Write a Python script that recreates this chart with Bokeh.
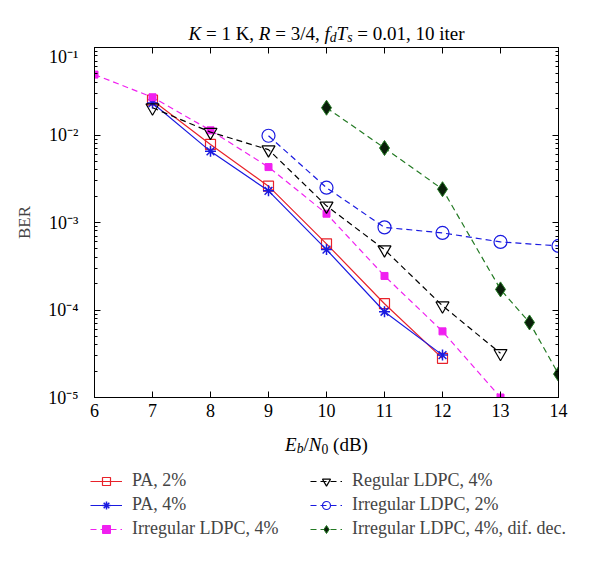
from bokeh.plotting import figure
from bokeh.layouts import column
from bokeh.models import (Range1d, FixedTicker, LinearAxis, LogAxis, Label,
                          Legend, LegendItem, CustomJSTickFormatter)
from bokeh.embed import file_html
from bokeh.resources import INLINE

# ---------------- data ----------------
x_pa = [7, 8, 9, 10, 11, 12]
ber_pa2 = [0.025, 0.0078, 0.0026, 0.00057, 0.000118, 2.8e-5]
ber_pa4 = [0.0232, 0.0065, 0.0023, 0.00049, 0.0000955, 3.05e-5]

x_irr4 = [6, 7, 8, 9, 10, 11, 12, 13]
ber_irr4 = [0.049, 0.027, 0.0113, 0.0043, 0.00126, 0.000245, 5.7e-5, 1.0e-5]

x_reg4 = [7, 8, 9, 10, 11, 12, 13]
ber_reg4 = [0.0205, 0.0108, 0.0068, 0.00155, 0.00049, 0.000112, 3.2e-5]

x_irr2 = [9, 10, 11, 12, 13, 14]
ber_irr2 = [0.0098, 0.0025, 0.00088, 0.00076, 0.0006, 0.00054]

x_dif = [10, 11, 12, 13, 13.5, 14]
ber_dif = [0.0205, 0.0071, 0.0024, 0.000172, 7.2e-5, 1.85e-5]

labels = ["PA, 2%", "PA, 4%", "Irregular LDPC, 4%",
          "Regular LDPC, 4%", "Irregular LDPC, 2%", "Irregular LDPC, 4%, dif. dec."]

x_ticks = [6, 7, 8, 9, 10, 11, 12, 13, 14]
y_ticks = [1e-5, 1e-4, 1e-3, 1e-2, 1e-1]

FONT = "Liberation Serif"
RED = "#e8222a"
BLUE = "#1a1ae0"
MAG = "#f020f0"
GREEN = "#237a23"
DASH = "6 4"
LW = 1.2

W = 600
HA, HM, HC = 46, 381, 135          # title strip, main plot, bottom strip
L, R, T, B = 94, 42, 1, 30

def strip(h):
    f = figure(width=W, height=h, output_backend="svg", toolbar_location=None,
               x_range=Range1d(0, 1), y_range=Range1d(0, 1),
               x_axis_location=None, y_axis_location=None, min_border=0)
    f.grid.visible = False
    f.outline_line_color = None
    f.background_fill_color = "white"
    f.border_fill_color = "white"
    return f

# ---------------- main plot ----------------
p = figure(width=W, height=HM, output_backend="svg", toolbar_location=None,
           x_range=Range1d(6, 14), y_range=Range1d(1e-5, 1e-1),
           y_axis_type="log", min_border_left=L, min_border_right=R,
           min_border_top=T, min_border_bottom=B)
p.grid.visible = False
p.outline_line_color = "black"
p.outline_line_width = 1
p.background_fill_color = "white"
p.border_fill_color = "white"

minor_y = [m * 10.0 ** e for e in range(-5, -1) for m in range(2, 10)]
xt = FixedTicker(ticks=x_ticks, minor_ticks=[])
yt = FixedTicker(ticks=y_ticks, minor_ticks=minor_y)

fmt = CustomJSTickFormatter(code="""
const sup = {'-':'\u207b','0':'\u2070','1':'\u00b9','2':'\u00b2','3':'\u00b3',
             '4':'\u2074','5':'\u2075','6':'\u2076','7':'\u2077','8':'\u2078','9':'\u2079'};
const e = Math.round(Math.log10(tick));
return '10' + String(e).split('').map(c => sup[c]).join('');
""")
blank = CustomJSTickFormatter(code="return '';")

def style_axis(ax):
    ax.axis_line_color = "black"
    ax.major_tick_in = 6
    ax.major_tick_out = 0
    ax.minor_tick_in = 3
    ax.minor_tick_out = 0
    ax.major_tick_line_color = "black"
    ax.minor_tick_line_color = "black"
    ax.major_label_text_font = FONT
    ax.major_label_text_font_size = "17px"
    ax.major_label_text_color = "black"

xa = p.xaxis[0]
xa.ticker = xt
style_axis(xa)
xa.major_label_text_font_size = "18px"
xa.major_label_standoff = 6

ya = p.yaxis[0]
ya.ticker = yt
ya.formatter = fmt
style_axis(ya)
ya.major_label_text_font_size = "18px"
ya.major_label_standoff = 16
ya.axis_label = "BER"
ya.axis_label_text_font = FONT
ya.axis_label_text_font_style = "normal"
ya.axis_label_text_font_size = "17px"
ya.axis_label_standoff = 11

top = LinearAxis(ticker=xt, formatter=blank)
style_axis(top)
top.major_label_text_font_size = "1px"
top.major_label_standoff = 0
p.add_layout(top, "above")
right = LogAxis(ticker=yt, formatter=blank)
style_axis(right)
right.major_label_text_font_size = "1px"
right.major_label_standoff = 0
p.add_layout(right, "right")

series = [
    (x_pa, ber_pa2, dict(line_color=RED), dict(marker="square", size=10, fill_alpha=0, line_color=RED, line_width=1.2)),
    (x_pa, ber_pa4, dict(line_color=BLUE), dict(marker="asterisk", size=11, line_color=BLUE, line_width=1.5)),
    (x_irr4, ber_irr4, dict(line_color=MAG, line_dash=DASH), dict(marker="square", size=7, fill_color=MAG, line_color=MAG)),
    (x_reg4, ber_reg4, dict(line_color="black", line_dash=DASH), dict(marker="inverted_triangle", size=13, fill_alpha=0, line_color="black", line_width=1.2)),
    (x_irr2, ber_irr2, dict(line_color=BLUE, line_dash=DASH), dict(marker="circle", size=13, fill_alpha=0, line_color=BLUE, line_width=1.2)),
    (x_dif, ber_dif, dict(line_color=GREEN, line_dash=DASH), dict(marker="diamond", size=15, fill_color="#0a1f0a", line_color=GREEN, line_width=1)),
]
for xs, ys, lkw, mkw in series:
    p.line(xs, ys, line_width=LW, **lkw)
    p.scatter(xs, ys, **mkw)

# ---------- rich text helper ----------
W_REG = {' ': 250, ',': 250, '.': 250, '/': 278, '=': 564, '(': 333, ')': 333,
         'K': 722, 'd': 500, 'B': 667, 'i': 278, 't': 278, 'e': 444, 'r': 333}
W_IT = {'K': 667, 'R': 611, 'f': 278, 'd': 500, 'T': 556, 's': 389,
        'E': 611, 'b': 500, 'N': 667, ' ': 250}

def rich(fig, pieces, cx, base_y, size):
    widths = []
    for t, it, sub in pieces:
        s = size * 0.72 if sub else size
        tab = W_IT if it else W_REG
        widths.append(sum(tab.get(c, 500) for c in t) / 1000.0 * s)
    x = cx - sum(widths) / 2.0
    for (t, it, sub), w in zip(pieces, widths):
        s = size * 0.72 if sub else size
        tab = W_IT if it else W_REG
        lead = len(t) - len(t.lstrip(' '))
        fig.add_layout(Label(x=x + lead * tab[' '] / 1000.0 * s,
                             y=base_y - (size * 0.22 if sub else 0),
                             x_units="screen", y_units="screen", text=t.strip(' '),
                             text_font=FONT,
                             text_font_style="italic" if it else "normal",
                             text_font_size=f"{s:.1f}px", text_color="black",
                             text_align="left", text_baseline="alphabetic"))
        x += w

fa = strip(HA)
fc = strip(HC)

# un-align the strip frames from the main frame if supported
OFF = 0
try:
    for f in (fa, fc, p):
        f.frame_align = False
except Exception:
    OFF = L

CX = (L + (W - R)) / 2.0 - OFF

# ---------------- title strip ----------------
rich(fa, [("K", True, False), (" = 1 K, ", False, False), ("R", True, False),
          (" = 3/4, ", False, False), ("f", True, False), ("d", True, True),
          ("T", True, False), ("s", True, True), (" = 0.01, 10 iter", False, False)],
     CX, 13, 19)

# ---------------- bottom strip: x label + legend ----------------
rich(fc, [("E", True, False), ("b", True, True), ("/", False, False),
          ("N", True, False), ("0", False, True), (" (dB)", False, False)],
     CX, HC - 17, 19)

rends = []
for xs, ys, lkw, mkw in series:
    rl = fc.line(xs, ys, line_width=LW, **lkw)
    rm = fc.scatter(xs, ys, **mkw)
    rends.append([rl, rm])

def make_legend(idx, x, y):
    items = [LegendItem(label=labels[i], renderers=rends[i]) for i in idx]
    lg = Legend(items=items, location=(x, y), padding=0, margin=0,
                spacing=3, glyph_width=32, glyph_height=20, label_height=20,
                label_standoff=10, border_line_alpha=0,
                background_fill_alpha=0, label_text_font=FONT,
                label_text_font_size="18px", label_text_baseline="middle")
    fc.add_layout(lg, "center")

make_legend([0, 1, 2], 90 - OFF, 23)
make_legend([3, 4, 5], 310 - OFF, 23)

layout = column(fa, p, fc, spacing=0)
open("out.html", "w").write(file_html(layout, INLINE))
